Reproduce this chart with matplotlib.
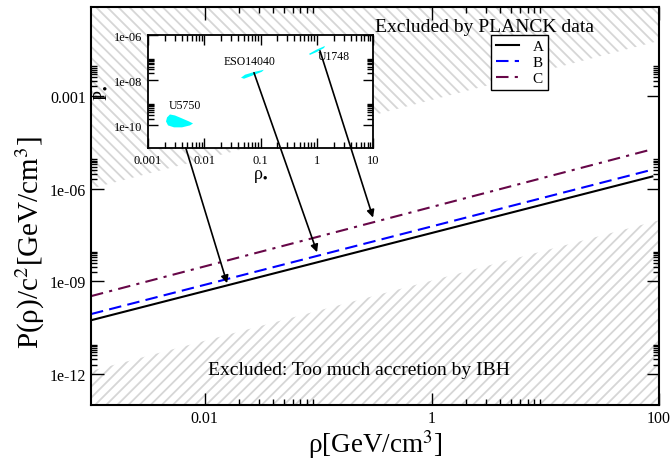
import numpy as np
import matplotlib
matplotlib.use('Agg')
from matplotlib import pyplot as plt
from matplotlib.ticker import FixedLocator, FixedFormatter, NullFormatter

plt.rcParams['font.family'] = ['Liberation Serif', 'DejaVu Serif']
plt.rcParams['mathtext.fontset'] = 'stix'
plt.rcParams['hatch.linewidth'] = 1.3

# main panel data
rho_A = [1e-3, 88]
P_A = [10**-10.26, 10**-5.61]
rho_B = [1e-3, 88]
P_B = [10**-10.06, 10**-5.39]
rho_C = [1e-3, 80]
P_C = [10**-9.48, 10**-4.77]

# exclusion boundaries
rho_edge = [1e-3, 100]
planck_edge = [10**-6.0, 10**-1.23]
ibh_edge = [10**-11.9, 10**-7.03]
y_top = 10**-0.13
y_bottom = 1e-13

# inset: galaxy regions (rho, P)
u5750_rho = [0.00218, 0.00246, 0.00302, 0.00402, 0.00535, 0.00631, 0.00558, 0.00402, 0.0029, 0.00227, 0.00209]
u5750_P = [2.25e-10, 3.05e-10, 2.75e-10, 2.04e-10, 1.5e-10, 1.22e-10, 1.0e-10, 8.2e-11, 8.2e-11, 1.0e-10, 1.5e-10]
eso_rho = [0.045, 0.053, 0.080, 0.115, 0.106, 0.0706, 0.0509]
eso_P = [1.29e-8, 1.75e-8, 2.37e-8, 2.9e-8, 2.37e-8, 1.58e-8, 1.16e-8]
u1748_rho = [0.728, 0.97, 1.40, 1.35, 1.01, 0.758]
u1748_P = [1.46e-7, 2.19e-7, 3.28e-7, 2.68e-7, 1.79e-7, 1.32e-7]

# arrows: start in inset, end on main curves
arrow_start = [(0.0047, 1e-11), (0.0766, 2.14e-8), (1.14, 2.0e-7)]
arrow_end = [(0.0158, 10**-9.06), (0.098, 10**-8.06), (0.305, 10**-6.94)]

fig = plt.figure(figsize=(6.71, 4.60), dpi=100)
ax = fig.add_axes([0.1356, 0.1174, 0.846, 0.8652])
ax.set_xscale('log')
ax.set_yscale('log')
ax.set_xlim(1e-3, 100)
ax.set_ylim(y_bottom, y_top)

ax.fill_between(rho_edge, planck_edge, [y_top, y_top], facecolor='none',
                edgecolor='#d6d6d6', hatch='\\\\\\', linewidth=0)
ax.fill_between(rho_edge, [y_bottom, y_bottom], ibh_edge, facecolor='none',
                edgecolor='#d6d6d6', hatch='///', linewidth=0)

ax.plot(rho_A, P_A, '-', color='k', lw=1.5, label='A')
ax.plot(rho_B, P_B, '--', color='#0000ff', lw=1.5, dashes=(6, 3), label='B')
ax.plot(rho_C, P_C, '-.', color='#670748', lw=1.5, dashes=(6, 3, 1.5, 3), label='C')

ax.text(0.693, 0.95, 'Excluded by PLANCK data', transform=ax.transAxes,
        ha='center', va='center', fontsize=14)
ax.text(0.473, 0.09, 'Excluded: Too much accretion by IBH', transform=ax.transAxes,
        ha='center', va='center', fontsize=14)

ax.xaxis.set_major_locator(FixedLocator([0.01, 1, 100]))
ax.xaxis.set_major_formatter(FixedFormatter(['0.01', '1', '100']))
ax.xaxis.set_minor_locator(FixedLocator([m * d for d in (0.01, 1) for m in range(2, 10)]))
ax.xaxis.set_minor_formatter(NullFormatter())
ax.yaxis.set_major_locator(FixedLocator([1e-12, 1e-9, 1e-6, 1e-3]))
ax.yaxis.set_major_formatter(FixedFormatter(['1e-12', '1e-09', '1e-06', '0.001']))
ax.yaxis.set_minor_locator(FixedLocator([m * d for d in (1e-12, 1e-9, 1e-6, 1e-3) for m in range(2, 10)]))
ax.yaxis.set_minor_formatter(NullFormatter())
ax.tick_params(which='both', direction='in', top=True, right=True, labelsize=11.5)
ax.tick_params(which='major', length=9, width=1)
ax.tick_params(which='minor', length=4.5, width=1)
for s in ax.spines.values():
    s.set_linewidth(1.5)

ax.set_xlabel(r'ρ[GeV/cm$^{3}$]', fontsize=19.5, labelpad=1)
ax.set_ylabel(r'P(ρ)/c$^{2}$[GeV/cm$^{3}$]', fontsize=21)
ax.yaxis.set_label_coords(-0.078, 0.41)

leg = ax.legend(loc='upper left', bbox_to_anchor=(0.705, 0.93), fontsize=11,
                frameon=True, fancybox=False, edgecolor='k', framealpha=1,
                handlelength=1.5, handletextpad=0.9, borderpad=0.3,
                labelspacing=0.15, borderaxespad=0)
leg.get_frame().set_linewidth(1)

# inset
axins = fig.add_axes([148 / 671, 1 - 149 / 460, 225 / 671, 113 / 460])
axins.set_xscale('log')
axins.set_yscale('log')
axins.set_xlim(1e-3, 10)
axins.set_ylim(1e-11, 1e-6)
axins.fill(u5750_rho, u5750_P, color='#00ffff', lw=0)
axins.fill(eso_rho, eso_P, color='#00ffff', lw=0)
axins.fill(u1748_rho, u1748_P, color='#00ffff', lw=0, zorder=3)
axins.text(0.00455, 7.6e-10, 'U5750', fontsize=8.5, ha='center', va='center')
axins.text(0.063, 7.2e-8, 'ESO14040', fontsize=8.5, ha='center', va='center')
axins.text(1.05, 1.2e-7, 'U1748', fontsize=8.5, ha='left', va='center')

axins.xaxis.set_major_locator(FixedLocator([0.001, 0.01, 0.1, 1, 10]))
axins.xaxis.set_major_formatter(FixedFormatter(['0.001', '0.01', '0.1', '1', '10']))
axins.xaxis.set_minor_locator(FixedLocator([m * d for d in (0.001, 0.01, 0.1, 1) for m in range(2, 10)]))
axins.xaxis.set_minor_formatter(NullFormatter())
axins.yaxis.set_major_locator(FixedLocator([1e-10, 1e-8, 1e-6]))
axins.yaxis.set_major_formatter(FixedFormatter(['1e-10', '1e-08', '1e-06']))
axins.yaxis.set_minor_locator(FixedLocator([m * d for d in (1e-10, 1e-8) for m in range(2, 10)]))
axins.yaxis.set_minor_formatter(NullFormatter())
axins.tick_params(which='both', direction='in', top=True, right=True, labelsize=9, pad=4)
axins.tick_params(which='major', length=7, width=1)
axins.tick_params(which='minor', length=4, width=1)
for s in axins.spines.values():
    s.set_linewidth(1.3)
axins.set_xlabel(r'ρ$_{\bullet}$', fontsize=13, labelpad=1)
axins.set_ylabel(r'P$_{\bullet}$', fontsize=13, labelpad=3)

for (x0, y0), (x1, y1) in zip(arrow_start, arrow_end):
    axins.annotate('', xy=(x1, y1), xycoords=ax.transData, xytext=(x0, y0),
                   textcoords='data', annotation_clip=False,
                   arrowprops=dict(arrowstyle='-|>', color='k', lw=1.2,
                                   mutation_scale=11, shrinkA=0, shrinkB=0))

fig.savefig('out.png', dpi=100)
